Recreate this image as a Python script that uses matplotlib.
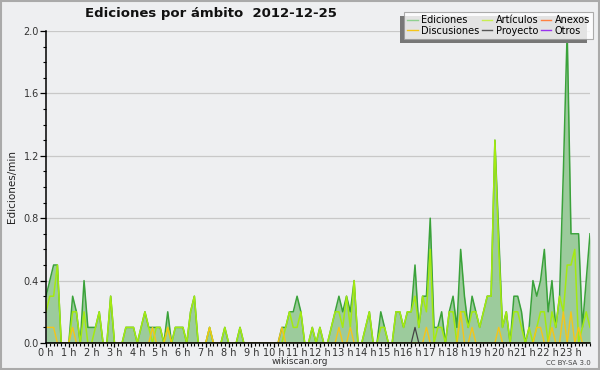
import matplotlib
matplotlib.use("Agg")
import matplotlib.pyplot as plt
from matplotlib.ticker import MultipleLocator, FixedLocator, FormatStrFormatter
import numpy as np

# 10-minute bins (144 per day), values in edits/min
ediciones = [
    0.3, 0.4, 0.5, 0.5, 0, 0, 0, 0.3, 0.2, 0, 0.4, 0.1,
    0.1, 0.1, 0.2, 0, 0, 0.3, 0, 0, 0, 0.1, 0.1, 0.1,
    0, 0.1, 0.2, 0.1, 0.1, 0.1, 0.1, 0, 0.2, 0, 0.1, 0.1,
    0.1, 0, 0.2, 0.3, 0, 0, 0, 0.1, 0, 0, 0, 0.1,
    0, 0, 0, 0.1, 0, 0, 0, 0, 0, 0, 0, 0,
    0, 0, 0.1, 0.1, 0.2, 0.2, 0.3, 0.2, 0, 0, 0.1, 0,
    0.1, 0, 0, 0.1, 0.2, 0.3, 0.2, 0.3, 0.2, 0.4, 0, 0,
    0.1, 0.2, 0, 0, 0.2, 0.1, 0, 0, 0.2, 0.2, 0.1, 0.2,
    0.2, 0.5, 0.1, 0.3, 0.3, 0.8, 0.1, 0.1, 0.2, 0, 0.2, 0.3,
    0.1, 0.6, 0.3, 0.1, 0.3, 0.2, 0.1, 0.2, 0.3, 0.3, 1.3, 0.7,
    0.1, 0.2, 0, 0.3, 0.3, 0.2, 0, 0.1, 0.4, 0.3, 0.4, 0.6,
    0.2, 0.4, 0.1, 0.3, 1.1, 2.0, 0.7, 0.7, 0.7, 0.1, 0.4, 0.7,
]
articulos = [
    0.2, 0.3, 0.3, 0.5, 0, 0, 0, 0.2, 0.2, 0, 0.2, 0,
    0, 0.1, 0.2, 0, 0, 0.3, 0, 0, 0, 0.1, 0.1, 0.1,
    0, 0.1, 0.2, 0.1, 0, 0.1, 0.1, 0, 0.1, 0, 0.1, 0.1,
    0.1, 0, 0.2, 0.3, 0, 0, 0, 0.1, 0, 0, 0, 0.1,
    0, 0, 0, 0.1, 0, 0, 0, 0, 0, 0, 0, 0,
    0, 0, 0, 0.1, 0.2, 0.1, 0.1, 0.2, 0, 0, 0.1, 0,
    0.1, 0, 0, 0.1, 0.2, 0.2, 0.1, 0.3, 0.1, 0.4, 0, 0,
    0.1, 0.2, 0, 0, 0.1, 0.1, 0, 0, 0.2, 0.2, 0.1, 0.2,
    0.2, 0.3, 0.1, 0.3, 0.2, 0.6, 0, 0.1, 0.1, 0, 0.2, 0.2,
    0, 0.2, 0.2, 0.1, 0.2, 0.2, 0.1, 0.2, 0.3, 0.3, 1.3, 0.6,
    0.1, 0.2, 0, 0.2, 0.2, 0.1, 0, 0.1, 0, 0.1, 0.2, 0.2,
    0, 0.2, 0.1, 0.3, 0.2, 0.5, 0.5, 0.6, 0, 0.1, 0.2, 0.1,
]
discusiones = [
    0.1, 0.1, 0.1, 0, 0, 0, 0, 0.1, 0, 0, 0, 0,
    0, 0, 0, 0, 0, 0, 0, 0, 0, 0, 0, 0,
    0, 0, 0, 0, 0.1, 0, 0, 0, 0.1, 0, 0, 0,
    0, 0, 0, 0, 0, 0, 0, 0.1, 0, 0, 0, 0,
    0, 0, 0, 0, 0, 0, 0, 0, 0, 0, 0, 0,
    0, 0, 0.1, 0, 0, 0, 0, 0, 0, 0, 0, 0,
    0, 0, 0, 0, 0, 0.1, 0, 0, 0.1, 0, 0, 0,
    0, 0, 0, 0, 0, 0, 0, 0, 0, 0, 0, 0,
    0, 0, 0, 0, 0.1, 0, 0, 0, 0, 0, 0, 0,
    0, 0.2, 0, 0, 0.1, 0, 0, 0, 0, 0, 0, 0.1,
    0, 0, 0, 0, 0, 0, 0, 0, 0, 0.1, 0.1, 0,
    0, 0.1, 0, 0, 0.2, 0, 0.2, 0, 0.1, 0, 0, 0,
]
proyecto = [0.0] * 144
proyecto[97] = 0.1
anexos = [0.0] * 144
otros = [0.0] * 144

hour_labels = [f"{h} h" for h in range(24)]
title = "Ediciones por ámbito  2012-12-25"

BG = "#eeeff1"
W, H = 600, 370
fig = plt.figure(figsize=(W / 100, H / 100), dpi=100, facecolor=BG)
ax = fig.add_axes([46 / W, 27 / H, 544 / W, 312 / H], facecolor=BG)

x = np.arange(len(ediciones))
ax.fill_between(x, ediciones, 0, color="#9ccb9c", lw=0, zorder=2)
ax.plot(x, ediciones, color="#3aa23a", lw=1.1, zorder=3)
ax.plot(x, articulos, color="#a4ea10", lw=1.1, zorder=4)
ax.plot(x, anexos, color="#ff8040", lw=1.0, zorder=1)
ax.plot(x, discusiones, color="#f5c518", lw=1.0, zorder=5)
ax.plot(x, proyecto, color="#444444", lw=0.9, zorder=6)
ax.plot(x, otros, color="#9933ee", lw=1.0, zorder=1)

ax.set_xlim(0, 143)
ax.set_ylim(0, 2.0)

for s in ["top", "right"]:
    ax.spines[s].set_visible(False)
for s in ["left", "bottom"]:
    ax.spines[s].set_color("black")
    ax.spines[s].set_linewidth(1.1)
    ax.spines[s].set_zorder(7)

ax.yaxis.set_major_locator(MultipleLocator(0.4))
ax.yaxis.set_minor_locator(MultipleLocator(0.1))
ax.yaxis.set_major_formatter(FormatStrFormatter("%.1f"))
ax.xaxis.set_major_locator(FixedLocator([h * 6 for h in range(24)]))
ax.set_xticklabels(hour_labels)
ax.xaxis.set_minor_locator(MultipleLocator(1))
ax.tick_params(axis="x", which="major", length=3, width=0.9, color="black",
               labelsize=7, labelcolor="#333333", pad=0.5)
ax.tick_params(axis="y", which="major", length=4, width=0.9, color="black",
               labelsize=7, labelcolor="#333333", pad=1)
ax.tick_params(axis="both", which="minor", length=2.5, width=0.8, color="black")
ax.grid(axis="y", which="major", color="#c8c8c8", lw=0.9, zorder=0)

ax.set_ylabel("Ediciones/min", fontsize=7.5, color="#222222", labelpad=5)

fig.text(85 / W, 1 - 13 / H, title, fontsize=9.5, fontweight="bold",
         color="#111111", ha="left", va="center")
fig.text(300 / W, 1 - 362 / H, "wikiscan.org", fontsize=6.5,
         color="#333333", ha="center", va="center")
fig.text(591 / W, 1 - 363 / H, "CC BY-SA 3.0", fontsize=5,
         color="#444444", ha="right", va="center")

handles = [
    plt.Line2D([], [], color="#8fd08f", lw=1.0),
    plt.Line2D([], [], color="#f5c518", lw=1.0),
    plt.Line2D([], [], color="#c8ee50", lw=1.0),
    plt.Line2D([], [], color="#555555", lw=1.0),
    plt.Line2D([], [], color="#ff8040", lw=1.0),
    plt.Line2D([], [], color="#9933ee", lw=1.0),
]
labels = ["Ediciones", "Discusiones", "Artículos", "Proyecto", "Anexos", "Otros"]
leg = fig.legend(handles, labels, ncol=3, loc="upper right",
                 bbox_to_anchor=(593 / W, 1 - 12 / H),
                 fontsize=7.0, frameon=True, fancybox=False, shadow=False,
                 handlelength=1.1, handletextpad=0.35, columnspacing=0.25,
                 labelspacing=0.1, borderpad=0.3, borderaxespad=0)
leg.get_frame().set_facecolor("white")
leg.get_frame().set_edgecolor("#999999")
leg.get_frame().set_linewidth(0.8)
leg.set_zorder(10)

# legend shadow (offset to the lower-left), drawn from the legend's own extent
fig.canvas.draw()
bb = leg.get_window_extent()
shadow = plt.Rectangle((bb.x0 - 4, bb.y0 - 4), bb.width - 2, bb.height,
                       transform=None, facecolor="#777777", edgecolor="none",
                       zorder=9)
fig.add_artist(shadow)

# outer frame
fig.add_artist(plt.Rectangle((0.001, 0.002), 0.997, 0.996, transform=fig.transFigure,
                             fill=False, edgecolor="#aaaaaa", lw=1.5))

fig.savefig("out.png", dpi=100, facecolor=BG)
